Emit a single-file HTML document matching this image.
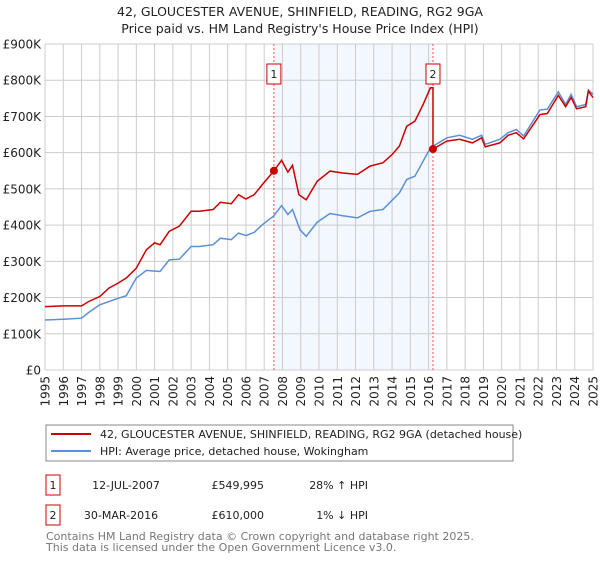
<!DOCTYPE html>
<html><head><meta charset="utf-8"><style>
body{margin:0;background:#fff;font-family:"Liberation Sans","DejaVu Sans",sans-serif;}
svg text{font-family:"DejaVu Sans","Liberation Sans",sans-serif;}
</style></head><body>
<svg id="chart" width="600" height="560" viewBox="0 0 600 560" xmlns="http://www.w3.org/2000/svg">
<text x="300" y="16" text-anchor="middle" font-size="12.5" fill="#222">42, GLOUCESTER AVENUE, SHINFIELD, READING, RG2 9GA</text>
<text x="300" y="33" text-anchor="middle" font-size="12.5" fill="#222">Price paid vs. HM Land Registry's House Price Index (HPI)</text>
<g id="plot"></g>
<rect x="46" y="425" width="467" height="36" fill="#fff" stroke="#888"/>
<line x1="51" y1="434" x2="91" y2="434" stroke="#cc0000" stroke-width="2"/>
<text x="100" y="438" font-size="11" fill="#222">42, GLOUCESTER AVENUE, SHINFIELD, READING, RG2 9GA (detached house)</text>
<line x1="51" y1="451" x2="91" y2="451" stroke="#5b8fd6" stroke-width="2"/>
<text x="100" y="455" font-size="11" fill="#222">HPI: Average price, detached house, Wokingham</text>
<g>
<rect x="46" y="475" width="14" height="20" fill="#fff" stroke="#cc0000"/>
<text x="53" y="489" text-anchor="middle" font-size="11" fill="#222">1</text>
<text x="126" y="489" text-anchor="middle" font-size="11" fill="#222">12-JUL-2007</text>
<text x="264" y="489" text-anchor="end" font-size="11" fill="#222">£549,995</text>
<text x="368" y="489" text-anchor="end" font-size="11" fill="#222">28% ↑ HPI</text>
</g>
<g>
<rect x="46" y="505" width="14" height="20" fill="#fff" stroke="#cc0000"/>
<text x="53" y="519" text-anchor="middle" font-size="11" fill="#222">2</text>
<text x="121" y="519" text-anchor="middle" font-size="11" fill="#222">30-MAR-2016</text>
<text x="264" y="519" text-anchor="end" font-size="11" fill="#222">£610,000</text>
<text x="368" y="519" text-anchor="end" font-size="11" fill="#222">1% ↓ HPI</text>
</g>
<text x="46" y="540" font-size="11" fill="#777">Contains HM Land Registry data © Crown copyright and database right 2025.</text>
<text x="46" y="551" font-size="11" fill="#777">This data is licensed under the Open Government Licence v3.0.</text>
</svg>
<script>
const yTicks=[0,100000,200000,300000,400000,500000,600000,700000,800000,900000];
const yTickLabels=["£0","£100K","£200K","£300K","£400K","£500K","£600K","£700K","£800K","£900K"];
const hpiYears=[1995,1996,1997,1997.4,1998,1999,1999.45,2000,2000.55,2001.3,2001.8,2002.35,2003,2003.45,2004.2,2004.6,2005.2,2005.6,2006,2006.45,2006.9,2007.5,2007.95,2008.3,2008.55,2008.96,2009.3,2009.9,2010.6,2011.3,2012.1,2012.8,2013.5,2014.4,2014.8,2015.25,2016,2016.25,2017,2017.7,2018.4,2018.9,2019.1,2019.9,2020.35,2020.8,2021.2,2022.1,2022.5,2023.1,2023.5,2023.8,2024.1,2024.6,2024.75,2025];
const hpiValues=[138,140,143,159,180,198,205,254,275,272,304,306,341,341,346,364,360,378,371,380,401,424,454,429,443,387,369,408,432,426,420,438,443,489,526,535,604,618,641,648,637,648,623,637,655,664,646,718,720,768,733,761,727,733,773,761];
const priceYears=[1995,1996,1997,1997.4,1998,1998.5,1999,1999.45,2000,2000.55,2001,2001.3,2001.8,2002.35,2003,2003.45,2004.2,2004.6,2005.2,2005.6,2006,2006.45,2006.9,2007.53,2007.95,2008.3,2008.55,2008.9,2009.3,2009.9,2010.6,2011.3,2012.1,2012.8,2013.5,2014,2014.4,2014.8,2015.25,2015.7,2016.1,2016.24,2016.24,2017,2017.7,2018.4,2018.9,2019.1,2019.9,2020.35,2020.8,2021.2,2022.1,2022.5,2023.1,2023.5,2023.8,2024.1,2024.6,2024.75,2025];
const priceValues=[175,177,177,189,203,226,240,254,281,332,351,346,383,397,438,438,443,463,459,484,472,484,512,550,579,546,565,484,470,521,549,544,540,563,572,595,618,673,687,733,779,779,610,632,637,627,641,616,627,648,655,638,705,708,758,727,752,721,727,770,752];
const saleYears=[2007.53,2016.24];
const saleValues=[549.995,610];
const saleLabels=["1","2"];
const X0=45,X1=593,Y0=370,Y1=44;
const xs=y=>X0+(y-1995)*(X1-X0)/30;
const ys=v=>Y0-v/900000*(Y0-Y1);
const NS="http://www.w3.org/2000/svg";
const plot=document.getElementById('plot');
function mk(t,a){const e=document.createElementNS(NS,t);for(const k in a)e.setAttribute(k,a[k]);plot.appendChild(e);return e;}
let r=mk('rect',{x:xs(saleYears[0]),y:Y1,width:xs(saleYears[1])-xs(saleYears[0]),height:Y0-Y1,fill:'#eef3fd',opacity:0.7});


for(let yr=1995;yr<=2025;yr++){
 const g=mk('line',{x1:xs(yr),x2:xs(yr),y1:Y1,y2:Y0,stroke:'#ccc','stroke-width':1});
 
 
 const t=mk('text',{x:0,y:0,'font-size':12,fill:'#222','text-anchor':'end',transform:`translate(${xs(yr)+4.5},${376}) rotate(-90)`});
 t.textContent=yr;
 
 
}
yTicks.forEach((v,i)=>{
 const g=mk('line',{x1:X0,x2:X1,y1:ys(v),y2:ys(v),stroke:'#ccc','stroke-width':1});
 
 
 const t=mk('text',{x:X0-4,y:ys(v)+4.5,'font-size':12,fill:'#222','text-anchor':'end'});
 t.textContent=yTickLabels[i];
 
 
});
saleYears.forEach((yr,i)=>{
 const l=mk('line',{x1:xs(yr),x2:xs(yr),y1:Y1,y2:Y0,stroke:'#ee5555','stroke-width':1,'stroke-dasharray':'2,2'});
 
 
});
const hp=hpiYears.map((y,i)=>`${xs(y).toFixed(1)},${ys(hpiValues[i]*1000).toFixed(1)}`).join(' ');
const h=mk('polyline',{points:hp,fill:'none',stroke:'#5b8fd6','stroke-width':1.5});


const pp=priceYears.map((y,i)=>`${xs(y).toFixed(1)},${ys(priceValues[i]*1000).toFixed(1)}`).join(' ');
const p=mk('polyline',{points:pp,fill:'none',stroke:'#cc0000','stroke-width':1.5});


saleYears.forEach((yr,i)=>{
 const c=mk('circle',{cx:xs(yr),cy:ys(saleValues[i]*1000),r:4,fill:'#cc0000'});
 
 
 const b=mk('rect',{x:xs(yr)-7,y:64,width:14,height:20,fill:'#fff',stroke:'#cc0000'});
 
 
 const t=mk('text',{x:xs(yr),y:78,'font-size':11,fill:'#222','text-anchor':'middle'});
 t.textContent=saleLabels[i];
 
 
});
</script>
</body></html>
